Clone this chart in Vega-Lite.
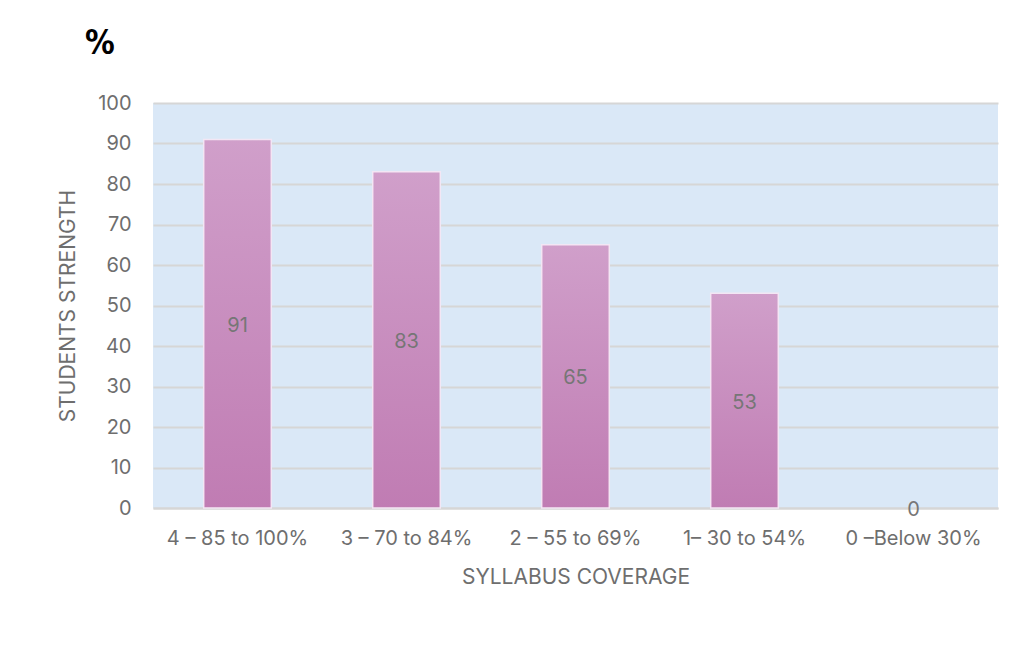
{
  "$schema": "https://vega.github.io/schema/vega-lite/v6.json",
  "width": 845,
  "height": 405,
  "autosize": {"type": "none"},
  "padding": {"left": 153, "top": 103, "right": 13, "bottom": 154},
  "background": "white",
  "title": {
    "text": "%",
    "anchor": "start",
    "frame": "group",
    "dx": -68,
    "offset": 32,
    "fontSize": 33,
    "font": "DejaVu Sans Condensed",
    "fontWeight": "bold",
    "color": "black"
  },
  "data": {
    "values": [
      {"coverage": "4 – 85 to 100%", "strength": 91},
      {"coverage": "3 – 70 to 84%", "strength": 83},
      {"coverage": "2 – 55 to 69%", "strength": 65},
      {"coverage": "1– 30 to 54%", "strength": 53},
      {"coverage": "0 –Below 30%", "strength": 0}
    ]
  },
  "encoding": {
    "x": {
      "field": "coverage",
      "type": "nominal",
      "sort": null,
      "scale": {"paddingInner": 0.6, "paddingOuter": 0.3},
      "axis": {
        "title": "SYLLABUS COVERAGE",
        "labelAngle": 0,
        "labelFont": "Inter",
        "labelFontSize": 20,
        "labelColor": "#6e6e6e",
        "labelPadding": 20,
        "ticks": false,
        "domain": true,
        "domainColor": "#d6d6d6",
        "domainWidth": 2,
        "titleFont": "Inter",
        "titleFontSize": 21,
        "titleFontWeight": "normal",
        "titleColor": "#6e6e6e",
        "titlePadding": 18
      }
    }
  },
  "layer": [
    {
      "transform": [{"filter": "datum.strength > 0"}],
      "mark": {
        "type": "bar",
        "stroke": "#f3e6f4",
        "strokeWidth": 1.5,
        "color": {
          "gradient": "linear",
          "x1": 0, "y1": 0, "x2": 0, "y2": 1,
          "stops": [
            {"offset": 0, "color": "#d09fca"},
            {"offset": 1, "color": "#c07cb3"}
          ]
        }
      },
      "encoding": {
        "y": {
          "field": "strength",
          "type": "quantitative",
          "scale": {"domain": [0, 100], "nice": false},
          "axis": {
            "title": "STUDENTS STRENGTH",
            "values": [0, 10, 20, 30, 40, 50, 60, 70, 80, 90, 100],
            "grid": true,
            "gridColor": "#d6d6d6",
            "gridWidth": 2,
            "domain": false,
            "ticks": false,
            "labelFont": "Inter",
            "labelFontSize": 20,
            "labelColor": "#6e6e6e",
            "labelPadding": 22,
            "titleFont": "Inter",
            "titleFontSize": 21,
            "titleFontWeight": "normal",
            "titleColor": "#6e6e6e",
            "titlePadding": 19
          }
        }
      }
    },
    {
      "transform": [{"calculate": "datum.strength / 2", "as": "mid"}],
      "mark": {
        "type": "text",
        "font": "Inter",
        "fontSize": 20,
        "color": "#767676",
        "baseline": "middle",
        "dy": 2
      },
      "encoding": {
        "y": {"field": "mid", "type": "quantitative", "scale": {"domain": [0, 100], "nice": false}},
        "text": {"field": "strength", "type": "quantitative"}
      }
    }
  ],
  "config": {
    "view": {"fill": "#dae8f7", "stroke": null}
  }
}
